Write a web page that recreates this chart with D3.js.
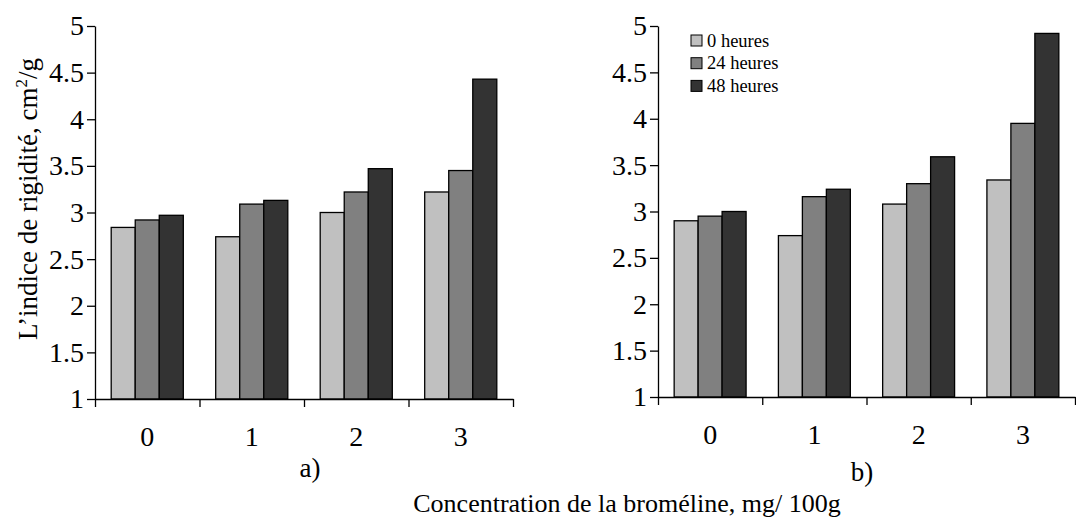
<!DOCTYPE html>
<html>
<head>
<meta charset="utf-8">
<script src="https://cdn.jsdelivr.net/npm/d3@7"></script>
<style>
  body { margin: 0; background: #ffffff; }
  svg text { font-family: "Liberation Serif", "Times New Roman", serif; fill: #000; }
  .axis path, .axis line { stroke: #000; stroke-width: 1.3; }
</style>
</head>
<body>
<script>
// data
var concentrations = ["0", "1", "2", "3"];
var seriesNames = ["0 heures", "24 heures", "48 heures"];
var seriesColors = ["#c0c0c0", "#808080", "#333333"];
var yTicks = [1, 1.5, 2, 2.5, 3, 3.5, 4, 4.5, 5];

// panel a)
var panelA0h = [2.84, 2.74, 3.00, 3.22];
var panelA24h = [2.92, 3.09, 3.22, 3.45];
var panelA48h = [2.97, 3.13, 3.47, 4.43];

// panel b)
var panelB0h = [2.90, 2.74, 3.08, 3.34];
var panelB24h = [2.95, 3.16, 3.30, 3.95];
var panelB48h = [3.00, 3.24, 3.59, 4.92];

var width = 1076;
var height = 518;
var serif = "'Liberation Serif', 'Times New Roman', serif";

var svg = d3.select("body")
  .append("svg")
  .attr("width", width)
  .attr("height", height);

function drawPanel(left, right, top, bottom, series, label, labelX, labelY) {
  var g = svg.append("g");

  var yScale = d3.scaleLinear()
    .domain([1, 5])
    .range([bottom, top]);

  var xScale = d3.scaleBand()
    .domain(concentrations)
    .range([left, right])
    .paddingInner(0.31)
    .paddingOuter(0.155);

  var xInner = d3.scaleBand()
    .domain(d3.range(seriesNames.length))
    .range([0, xScale.bandwidth()]);

  // bars
  concentrations.forEach(function(c, i) {
    g.selectAll(null)
      .data(series)
      .enter()
      .append("rect")
      .attr("x", function(d, j) { return xScale(c) + xInner(j); })
      .attr("y", function(d) { return yScale(d[i]); })
      .attr("width", xInner.bandwidth())
      .attr("height", function(d) { return yScale(1) - yScale(d[i]); })
      .attr("fill", function(d, j) { return seriesColors[j]; })
      .attr("stroke", "#000")
      .attr("stroke-width", 1.3);
  });

  // y axis
  g.append("g")
    .attr("class", "axis")
    .attr("transform", "translate(" + left + ",0)")
    .call(d3.axisLeft(yScale)
      .tickValues(yTicks)
      .tickSize(8)
      .tickSizeOuter(0)
      .tickPadding(3)
      .tickFormat(function(d) { return d; }))
    .attr("font-family", serif)
    .attr("font-size", 28)
    .selectAll("text")
    .style("font-size", "28px");

  // x axis with tick marks between categories
  var edgeScale = d3.scaleLinear()
    .domain([0, concentrations.length])
    .range([left, right]);
  g.append("g")
    .attr("class", "axis")
    .attr("transform", "translate(0," + bottom + ")")
    .call(d3.axisBottom(edgeScale)
      .ticks(concentrations.length)
      .tickSize(8)
      .tickSizeOuter(0)
      .tickFormat(""));

  // category labels
  var labels = g.append("g")
    .attr("class", "axis")
    .attr("transform", "translate(0," + bottom + ")")
    .call(d3.axisBottom(xScale).tickSize(0).tickPadding(27))
    .attr("font-family", serif)
    .attr("font-size", 28);
  labels.select(".domain").remove();
  labels.selectAll("text").style("font-size", "28px");

  // panel label
  g.append("text")
    .attr("x", labelX)
    .attr("y", labelY)
    .attr("text-anchor", "middle")
    .style("font-size", "27px")
    .text(label);

  return g;
}

drawPanel(95, 513, 26, 399, [panelA0h, panelA24h, panelA48h], "a)", 310, 477);
drawPanel(658, 1075, 26, 397, [panelB0h, panelB24h, panelB48h], "b)", 862, 481);

// y label
var yLabel = svg.append("text")
  .attr("transform", "translate(37,199) rotate(-90)")
  .attr("text-anchor", "middle")
  .style("font-size", "27px");
yLabel.append("tspan").text("L’indice de rigidité, cm");
yLabel.append("tspan").attr("dy", -10).style("font-size", "17px").text("2");
yLabel.append("tspan").attr("dy", 10).text("/g");

// x label
svg.append("text")
  .attr("x", 627)
  .attr("y", 512)
  .attr("text-anchor", "middle")
  .style("font-size", "26px")
  .text("Concentration de la broméline, mg/ 100g");

// legend in panel b)
var legend = svg.append("g")
  .selectAll("g")
  .data(seriesNames)
  .enter()
  .append("g")
  .attr("transform", function(d, i) { return "translate(691," + (35 + i * 22.7) + ")"; });

legend.append("rect")
  .attr("width", 11)
  .attr("height", 11)
  .attr("fill", function(d, i) { return seriesColors[i]; })
  .attr("stroke", "#000")
  .attr("stroke-width", 1);

legend.append("text")
  .attr("x", 16)
  .attr("y", 11.5)
  .style("font-size", "18.5px")
  .text(function(d) { return d; });
</script>
</body>
</html>
